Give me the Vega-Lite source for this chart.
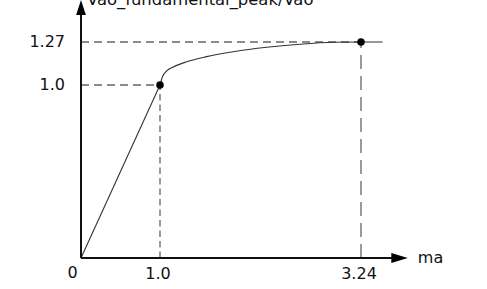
{
  "$schema": "https://vega.github.io/schema/vega-lite/v6.json",
  "width": 487,
  "height": 289,
  "padding": 0,
  "autosize": "none",
  "background": "white",
  "config": {"view": {"stroke": null}, "font": "DejaVu Sans"},
  "encoding": {
    "x": {"field": "x", "type": "quantitative", "axis": null,
          "scale": {"domain": [-1, 0, 1, 3.24, 4.64], "range": [0, 81, 160, 361, 487], "nice": false, "zero": false}},
    "y": {"field": "y", "type": "quantitative", "axis": null,
          "scale": {"domain": [-0.18, 0, 1, 1.27, 1.53], "range": [289, 258, 85, 42, 0], "nice": false, "zero": false}}
  },
  "layer": [
    {
      "data": {"values": [
        {"x": 0, "x2": 3.24, "y": 1.27},
        {"x": 0, "x2": 1, "y": 1}
      ]},
      "mark": {"type": "rule", "color": "#666", "strokeWidth": 1.3, "strokeDash": [8, 5]},
      "encoding": {"x2": {"field": "x2"}}
    },
    {
      "data": {"values": [{"x": 1, "y": 0, "y2": 1}]},
      "mark": {"type": "rule", "color": "#666", "strokeWidth": 1.3, "strokeDash": [6.5, 4]},
      "encoding": {"y2": {"field": "y2"}}
    },
    {
      "data": {"values": [{"x": 3.24, "y": 0, "y2": 1.27}]},
      "mark": {"type": "rule", "color": "#666", "strokeWidth": 1.3, "strokeDash": [14, 7]},
      "encoding": {"y2": {"field": "y2"}}
    },
    {
      "data": {"values": [
        {"part": "linear", "x": 0, "y": 0},
        {"part": "linear", "x": 1, "y": 1},
        {"part": "curve", "x": 1, "y": 1},
        {"part": "curve", "x": 1.03, "y": 1.055},
        {"part": "curve", "x": 1.075, "y": 1.088},
        {"part": "curve", "x": 1.148, "y": 1.113},
        {"part": "curve", "x": 1.298, "y": 1.146},
        {"part": "curve", "x": 1.52, "y": 1.178},
        {"part": "curve", "x": 1.817, "y": 1.209},
        {"part": "curve", "x": 2.189, "y": 1.237},
        {"part": "curve", "x": 2.56, "y": 1.256},
        {"part": "curve", "x": 2.932, "y": 1.268},
        {"part": "curve", "x": 3.24, "y": 1.27},
        {"part": "curve", "x": 3.48, "y": 1.27}
      ]},
      "mark": {"type": "line", "color": "#333", "strokeWidth": 1.1, "interpolate": "monotone"},
      "encoding": {"detail": {"field": "part"}, "order": {"field": "x", "type": "quantitative"}}
    },
    {
      "data": {"values": [{"x": 0, "x2": 3.7, "y": 0}]},
      "mark": {"type": "rule", "color": "#111", "strokeWidth": 2},
      "encoding": {"x2": {"field": "x2"}}
    },
    {
      "data": {"values": [{"x": 0, "y": 0, "y2": 1.48}]},
      "mark": {"type": "rule", "color": "#111", "strokeWidth": 2},
      "encoding": {"y2": {"field": "y2"}}
    },
    {
      "data": {"values": [{"x": 3.76, "y": 0}]},
      "mark": {"type": "point", "filled": true, "color": "#000", "opacity": 1, "shape": "M0,0L-2,-0.6L-2,0.6Z", "size": 272}
    },
    {
      "data": {"values": [{"x": 0, "y": 1.53}]},
      "mark": {"type": "point", "filled": true, "color": "#000", "opacity": 1, "shape": "M0,0L-0.65,2L0.65,2Z", "size": 225}
    },
    {
      "data": {"values": [{"x": 1, "y": 1}, {"x": 3.24, "y": 1.27}]},
      "mark": {"type": "point", "filled": true, "color": "#000", "opacity": 1, "shape": "circle", "size": 56}
    },
    {
      "data": {"values": [{"x": 0, "y": 1.27, "label": "1.27"}, {"x": 0, "y": 1, "label": "1.0"}]},
      "mark": {"type": "text", "align": "right", "baseline": "middle", "dx": -16, "fontSize": 16, "color": "#111"},
      "encoding": {"text": {"field": "label"}}
    },
    {
      "data": {"values": [{"x": 1, "y": 0, "label": "1.0"}, {"x": 3.24, "y": 0, "label": "3.24"}]},
      "mark": {"type": "text", "align": "center", "baseline": "middle", "dx": -2, "dy": 16, "fontSize": 16, "color": "#111"},
      "encoding": {"text": {"field": "label"}}
    },
    {
      "data": {"values": [{"x": 0, "y": 0, "label": "0"}]},
      "mark": {"type": "text", "align": "center", "baseline": "middle", "dx": -8.5, "dy": 15, "fontSize": 16, "color": "#111"},
      "encoding": {"text": {"field": "label"}}
    },
    {
      "data": {"values": [{"x": 3.76, "y": 0, "label": "ma"}]},
      "mark": {"type": "text", "align": "left", "baseline": "middle", "dx": 10, "fontSize": 16, "color": "#111"},
      "encoding": {"text": {"field": "label"}}
    },
    {
      "data": {"values": [{"x": 0, "y": 1.53, "label": "Vao_fundamental_peak/Vao"}]},
      "mark": {"type": "text", "align": "left", "baseline": "alphabetic", "dx": 6, "dy": 5, "fontSize": 16.4, "color": "#111"},
      "encoding": {"text": {"field": "label"}}
    }
  ]
}
